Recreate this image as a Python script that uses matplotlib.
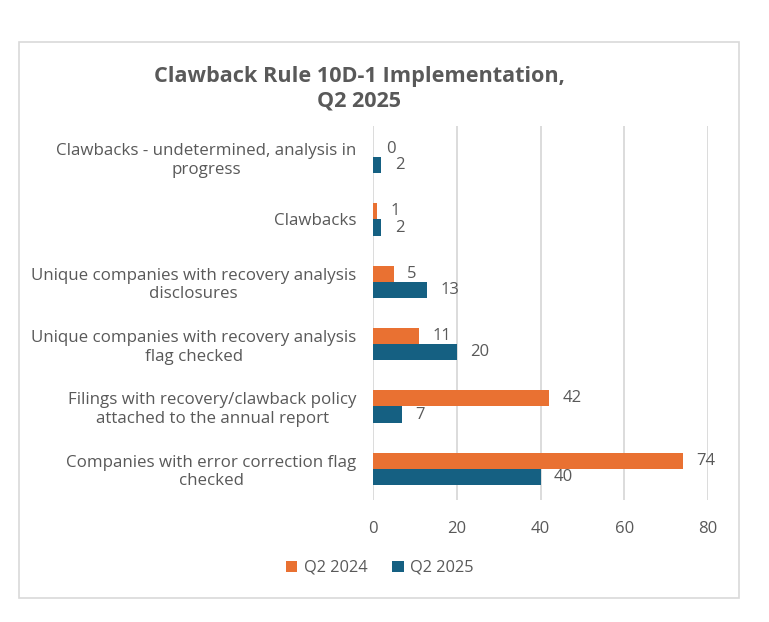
import numpy as np
import matplotlib.pyplot as plt
from matplotlib.patches import Rectangle

categories = [
    "Clawbacks - undetermined, analysis in\nprogress",
    "Clawbacks",
    "Unique companies with recovery analysis\ndisclosures",
    "Unique companies with recovery analysis\nflag checked",
    "Filings with recovery/clawback policy\nattached to the annual report",
    "Companies with error correction flag\nchecked",
]
q2_2024 = [0, 1, 5, 11, 42, 74]
q2_2025 = [2, 2, 13, 20, 7, 40]
series_names = ["Q2 2024", "Q2 2025"]
x_ticks = [0, 20, 40, 60, 80]

ORANGE = "#E97132"
BLUE = "#156082"
TEXT = "#595959"
GRID = "#D9D9D9"

plt.rcParams["font.family"] = ["Open Sans", "DejaVu Sans"]

fig = plt.figure(figsize=(7.69, 6.22), dpi=100)
# outer chart border
fig.patches.append(Rectangle((19 / 769, 1 - 598 / 622), 720 / 769, 556 / 622,
                             transform=fig.transFigure, fill=False,
                             edgecolor=GRID, linewidth=1.2))

ax = fig.add_axes([373 / 769, 1 - 500 / 622, 335 / 769, 374 / 622])

y = np.arange(len(categories))
h = 16 / 62.3
ax.barh(y - h / 2, q2_2024, height=h, color=ORANGE, label=series_names[0], zorder=3)
ax.barh(y + h / 2, q2_2025, height=h, color=BLUE, label=series_names[1], zorder=3)

for yi, v in zip(y, q2_2024):
    ax.text(v + 3.2, yi - h / 2, str(v), va="center", ha="left", fontsize=12, color=TEXT)
for yi, v in zip(y, q2_2025):
    ax.text(v + 3.2, yi + h / 2, str(v), va="center", ha="left", fontsize=12, color=TEXT)

ax.set_ylim(len(categories) - 0.5, -0.5)
ax.set_xlim(0, 80)
ax.set_xticks(x_ticks)
ax.set_yticks(y)
ax.set_yticklabels(categories, multialignment="center", fontsize=12.2, color=TEXT)
ax.tick_params(axis="x", colors=TEXT, labelsize=12, length=0, pad=15)
ax.tick_params(axis="y", length=0, pad=12)
ax.grid(axis="x", color=GRID, linewidth=1.3, zorder=0)
for s in ax.spines.values():
    s.set_visible(False)

fig.text(359 / 769, 1 - 89 / 622, "Clawback Rule 10D-1 Implementation,\nQ2 2025",
         ha="center", va="center", fontsize=15.6, fontweight="bold", color=TEXT,
         linespacing=1.25)

fig.legend(loc="center", bbox_to_anchor=(380 / 769, 1 - 568 / 622), ncol=2,
           frameon=False, fontsize=11.8, labelcolor=TEXT, handlelength=0.7,
           handleheight=0.7, handletextpad=0.4, columnspacing=1.5)

fig.savefig("out.png", dpi=100)
